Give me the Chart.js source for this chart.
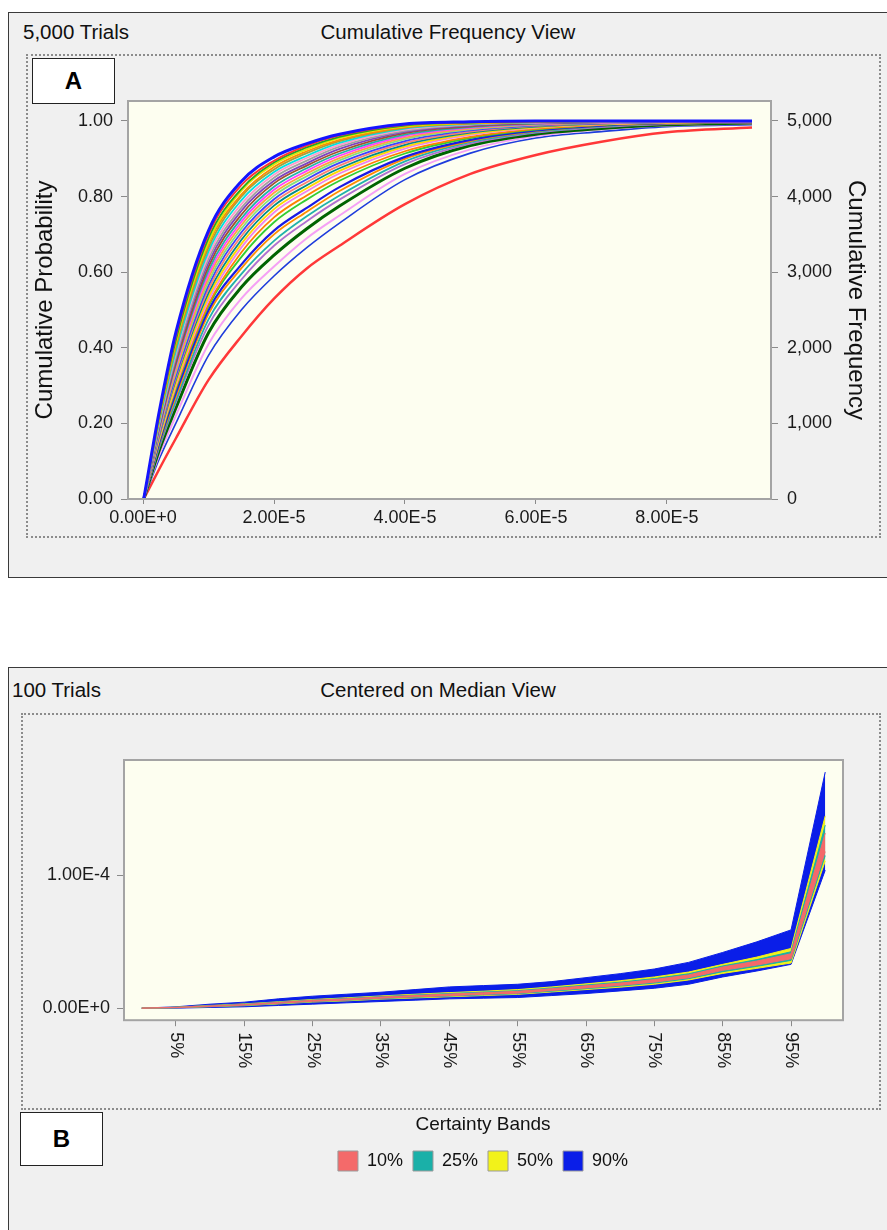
<!DOCTYPE html>
<html><head><meta charset="utf-8">
<script src="https://cdn.jsdelivr.net/npm/chart.js"></script>
<style>
body{margin:0;width:887px;height:1230px;background:#fff;position:relative;overflow:hidden;font-family:"Liberation Sans",Arial,sans-serif;}
.panel{position:absolute;background:#f0f0f0;border:1px solid #3a3a3a;box-sizing:border-box;}
.dot{position:absolute;border:2px dotted #8c8c8c;box-sizing:border-box;}
.txt{position:absolute;font-size:20.5px;color:#111;white-space:nowrap;line-height:20px;}
.lab{position:absolute;background:#fff;border:1.5px solid #222;box-sizing:border-box;font-weight:bold;font-size:24px;display:flex;align-items:center;justify-content:center;color:#000;}
canvas{position:absolute;}
</style></head>
<body>
<div class="panel" style="left:8px;top:12px;width:900px;height:566px;"></div>
<div class="dot" style="left:26px;top:54px;width:855px;height:484px;"></div>
<div class="txt" style="left:23px;top:22px;">5,000 Trials</div>
<div class="txt" style="left:448px;top:22px;transform:translateX(-50%);">Cumulative Frequency View</div>
<div class="lab" style="left:32px;top:58px;width:83px;height:46px;">A</div>
<canvas id="cA" width="860" height="470" style="left:20px;top:90px;"></canvas>

<div class="panel" style="left:8px;top:667px;width:900px;height:600px;"></div>
<div class="dot" style="left:21px;top:713px;width:860px;height:397px;"></div>
<div class="txt" style="left:12px;top:680px;">100 Trials</div>
<div class="txt" style="left:438px;top:680px;transform:translateX(-50%);">Centered on Median View</div>
<canvas id="cB" width="858" height="461" style="left:22px;top:720px;"></canvas>
<div class="lab" style="left:20px;top:1112px;width:83px;height:54px;">B</div>

<script>
// ---------- Panel A: cumulative frequency curves (x in units of 1E-5) ----------
const xGridA = [0.01, 0.25, 0.5, 1.0, 1.5, 2.0, 2.5, 3.0, 4.0, 5.0, 6.0, 7.0, 8.0, 9.3];
const xTickValsA = [0, 2, 4, 6, 8];
const xTickLabelsA = ['0.00E+0', '2.00E-5', '4.00E-5', '6.00E-5', '8.00E-5'];
const probTickVals = [0, 0.2, 0.4, 0.6, 0.8, 1.0];
const probTickLabels = ['0.00', '0.20', '0.40', '0.60', '0.80', '1.00'];
const freqTickVals = [0, 1000, 2000, 3000, 4000, 5000];
const freqTickLabels = ['0', '1,000', '2,000', '3,000', '4,000', '5,000'];

const cdfBlue1  = [0,.234,.44,.71,.84,.905,.94,.965,.992,.998,1,1,1,1];
const cdfR1     = [0,.228,.43,.70,.83,.895,.935,.962,.99,.997,.999,1,1,1];
const cdfR2     = [0,.222,.42,.69,.82,.89,.93,.958,.988,.996,.999,1,1,1];
const cdfR3     = [0,.22,.415,.68,.815,.885,.925,.955,.986,.995,.998,1,1,1];
const cdfR4     = [0,.216,.41,.675,.805,.878,.92,.95,.984,.994,.998,.999,1,1];
const cdfR5     = [0,.212,.40,.665,.80,.872,.915,.947,.982,.993,.997,.999,1,1];
const cdfR6     = [0,.206,.39,.655,.79,.865,.908,.942,.98,.992,.997,.999,1,1];
const cdfR7     = [0,.204,.385,.645,.78,.858,.902,.937,.977,.991,.996,.998,1,1];
const cdfR8     = [0,.199,.375,.635,.77,.85,.895,.932,.974,.99,.996,.998,.999,1];
const cdfR9     = [0,.196,.37,.625,.762,.842,.888,.926,.971,.988,.995,.998,.999,1];
const cdfR10    = [0,.192,.36,.615,.752,.835,.882,.92,.968,.986,.994,.997,.999,1];
const cdfR11    = [0,.189,.355,.605,.742,.826,.875,.914,.964,.984,.993,.997,.999,1];
const cdfR12    = [0,.186,.35,.595,.733,.818,.868,.908,.96,.982,.992,.996,.998,.999];
const cdfR13    = [0,.182,.34,.585,.724,.81,.861,.902,.956,.98,.991,.996,.998,.999];
const cdfR14    = [0,.179,.335,.575,.715,.802,.854,.896,.952,.978,.99,.995,.998,.999];
const cdfR15    = [0,.174,.325,.565,.705,.793,.846,.889,.947,.975,.988,.994,.997,.999];
const cdfR16    = [0,.172,.32,.555,.695,.785,.838,.882,.942,.972,.987,.994,.997,.999];
const cdfR17    = [0,.169,.315,.545,.685,.776,.83,.875,.937,.969,.985,.993,.997,.998];
const cdfR18    = [0,.164,.305,.535,.675,.767,.822,.868,.932,.966,.983,.992,.996,.998];
const cdfR19    = [0,.161,.30,.525,.665,.758,.814,.861,.927,.963,.982,.991,.996,.998];
const cdfR20    = [0,.159,.295,.515,.652,.745,.803,.851,.92,.958,.979,.99,.995,.998];
const cdfR21    = [0,.156,.29,.51,.64,.732,.792,.842,.914,.955,.977,.989,.995,.997];
const cdfBlue2  = [0,.151,.28,.50,.62,.71,.77,.825,.905,.95,.975,.988,.994,.997];
const cdfR22    = [0,.146,.27,.49,.61,.70,.76,.815,.90,.947,.973,.987,.993,.996];
const cdfR23    = [0,.141,.26,.475,.595,.683,.748,.803,.893,.944,.971,.986,.993,.996];
const cdfR24    = [0,.138,.255,.46,.58,.67,.735,.792,.886,.94,.969,.984,.992,.996];
const cdfDkGreen= [0,.13,.24,.44,.56,.645,.715,.775,.875,.935,.965,.98,.99,.995];
const cdfPink   = [0,.118,.22,.41,.53,.615,.69,.75,.86,.925,.96,.978,.988,.993];
const cdfBlue3  = [0,.107,.20,.38,.50,.59,.665,.73,.845,.915,.955,.972,.985,.99];
const cdfRed    = [0,.08,.16,.315,.43,.53,.61,.67,.78,.86,.91,.945,.97,.983];

const seriesA = [
  [cdfBlue1,'#1414ff',3],[cdfR1,'#ff3232',1.8],[cdfR2,'#22aa22',1.8],[cdfR3,'#e6e600',1.8],
  [cdfR4,'#ff8c00',1.8],[cdfR5,'#a0a040',1.8],[cdfR6,'#00e0e0',1.8],[cdfR7,'#ff99cc',1.8],
  [cdfR8,'#a0a0a0',1.8],[cdfR9,'#8040c0',1.8],[cdfR10,'#a0522d',1.8],[cdfR11,'#20b2aa',1.8],
  [cdfR12,'#ff40ff',1.8],[cdfR13,'#ffa040',1.8],[cdfR14,'#80e080',1.8],[cdfR15,'#4040ff',1.8],
  [cdfR16,'#fa8072',1.8],[cdfR17,'#008b8b',1.8],[cdfR18,'#ffd700',1.8],[cdfR19,'#ee82ee',1.8],
  [cdfR20,'#ff7f00',1.8],[cdfR21,'#32cd32',1.8],[cdfBlue2,'#1a1ae6',2.2],[cdfR22,'#ff8c00',1.8],
  [cdfR23,'#20b2aa',1.8],[cdfR24,'#b070d0',1.8],[cdfDkGreen,'#006400',3],[cdfPink,'#f5a0f5',2],
  [cdfBlue3,'#1e3cdc',1.6],[cdfRed,'#ff3838',2.5]
];

// ---------- Panel B: certainty bands (values in units of 1E-4) ----------
const pctX = [0,5,10,15,20,25,30,35,40,45,50,55,60,65,70,75,80,85,90,95,100];
const pctTickVals = [5,15,25,35,45,55,65,75,85,95];
const pctTickLabels = ['5%','15%','25%','35%','45%','55%','65%','75%','85%','95%'];
const valTickVals = [0, 1];
const valTickLabels = ['0.00E+0', '1.00E-4'];
const band90Lo = [0,0,.005,.01,.02,.03,.04,.05,.06,.07,.075,.08,.095,.11,.13,.15,.18,.235,.28,.33,1.04];
const band90Hi = [0,.01,.03,.045,.07,.09,.105,.12,.14,.16,.17,.18,.20,.23,.26,.295,.345,.42,.50,.59,1.78];
const band50Lo = [0,.003,.011,.019,.032,.046,.055,.068,.077,.086,.095,.104,.122,.14,.158,.18,.212,.262,.30,.34,1.11];
const band50Hi = [0,.007,.02,.032,.048,.065,.078,.092,.105,.117,.128,.14,.16,.183,.207,.235,.272,.33,.385,.45,1.45];
const band25Lo = [0,.004,.012,.021,.035,.049,.059,.072,.082,.091,.10,.109,.128,.147,.166,.189,.222,.275,.315,.36,1.15];
const band25Hi = [0,.006,.018,.029,.045,.061,.073,.087,.099,.11,.121,.132,.152,.174,.196,.223,.259,.318,.366,.425,1.38];
const band10Lo = [0,.0045,.013,.023,.037,.051,.061,.075,.085,.094,.104,.113,.133,.152,.172,.196,.229,.285,.325,.372,1.18];
const band10Hi = [0,.0055,.017,.027,.043,.059,.07,.084,.095,.106,.116,.127,.147,.168,.189,.215,.25,.31,.355,.41,1.32];
const bandNames = ['10%','25%','50%','90%'];
const bandColors = ['#f46a6a','#1ab0a8','#f2f21a','#0a1ee8'];

// ---------- common ----------
const FONT = '"Liberation Sans", Arial, sans-serif';
const plotFrame = {
  id: 'plotFrame',
  beforeDraw(c) { const a = c.chartArea, x = c.ctx; x.save(); x.fillStyle = '#fdfef0'; x.fillRect(a.left, a.top, a.right - a.left, a.bottom - a.top); x.restore(); },
  afterDraw(c) { const a = c.chartArea, x = c.ctx; x.save(); x.strokeStyle = '#a4a4a4'; x.lineWidth = 2; x.strokeRect(a.left, a.top, a.right - a.left, a.bottom - a.top); x.restore(); }
};
const setTicks = vals => s => { s.ticks = vals.map(v => ({value: v})); };
const fitBox = (w, h) => s => {
  if (w !== null) s.width = w;
  if (h !== null) s.height = h;
  s.paddingTop = 0; s.paddingBottom = 0; s.paddingLeft = 0; s.paddingRight = 0;
};
const tickFont = {family: FONT, size: 18};
const gridOut = {drawOnChartArea: false, drawTicks: true, tickLength: 7, color: '#8a8a8a', lineWidth: 1};

// ---------- Chart A ----------
new Chart(document.getElementById('cA'), {
  type: 'line',
  data: {
    datasets: seriesA.map(([arr, col, w]) => ({
      data: xGridA.map((x, i) => ({x: x, y: arr[i]})),
      borderColor: col, borderWidth: w, pointRadius: 0, fill: false,
      cubicInterpolationMode: 'monotone', yAxisID: 'y', xAxisID: 'x'
    }))
  },
  options: {
    responsive: false, animation: false, devicePixelRatio: 1,
    layout: {padding: {left: 0, top: 11, right: 0, bottom: 0}},
    plugins: {legend: {display: false}, tooltip: {enabled: false}},
    scales: {
      x: {type: 'linear', min: -0.23, max: 9.59, afterBuildTicks: setTicks(xTickValsA),
          afterFit: fitBox(null, 61),
          ticks: {autoSkip: false, maxRotation: 0, font: tickFont, color: '#1a1a1a', padding: 3,
                  callback: (v, i) => xTickLabelsA[i]},
          grid: Object.assign({}, gridOut, {tickLength: 5}), border: {display: false}},
      y: {type: 'linear', position: 'left', min: 0, max: 1.0529, afterBuildTicks: setTicks(probTickVals),
          afterFit: fitBox(108, null),
          ticks: {autoSkip: false, font: tickFont, color: '#1a1a1a', padding: 8, callback: (v, i) => probTickLabels[i]},
          grid: gridOut, border: {display: false},
          title: {display: true, text: 'Cumulative Probability', font: {family: FONT, size: 24}, color: '#111', padding: {top: 11, bottom: 0}}},
      y2: {type: 'linear', position: 'right', min: 0, max: 5264.5, afterBuildTicks: setTicks(freqTickVals),
          afterFit: fitBox(109, null),
          ticks: {autoSkip: false, font: tickFont, color: '#1a1a1a', padding: 9, callback: (v, i) => freqTickLabels[i]},
          grid: gridOut, border: {display: false},
          title: {display: true, text: 'Cumulative Frequency', font: {family: FONT, size: 24}, color: '#111', padding: {top: 10, bottom: 0}}}
    }
  },
  plugins: [plotFrame]
});

// ---------- Chart B ----------
const bandSets = [[band90Lo, band90Hi, 3], [band50Lo, band50Hi, 2], [band25Lo, band25Hi, 1], [band10Lo, band10Hi, 0]];
const dsB = [];
bandSets.forEach(([lo, hi, ci], k) => {
  const col = bandColors[ci];
  const loIdx = dsB.length;
  dsB.push({data: pctX.map((x, i) => ({x: x, y: lo[i]})), borderColor: col, borderWidth: 1, pointRadius: 0, fill: false, order: 10 - k});
  dsB.push({data: pctX.map((x, i) => ({x: x, y: hi[i]})), borderColor: col, borderWidth: 1, pointRadius: 0,
            backgroundColor: col, fill: {target: loIdx}, order: 10 - k});
});
const rotatedPctLabels = {
  id: 'rotatedPctLabels',
  afterDraw(c) {
    const s = c.scales.x, ctx = c.ctx;
    ctx.save();
    ctx.font = '18px ' + FONT; ctx.fillStyle = '#1a1a1a'; ctx.textAlign = 'left'; ctx.textBaseline = 'middle';
    pctTickVals.forEach((v, i) => {
      const px = s.getPixelForValue(v);
      ctx.save(); ctx.translate(px, c.chartArea.bottom + 12); ctx.rotate(Math.PI / 2);
      ctx.fillText(pctTickLabels[i], 0, 0); ctx.restore();
    });
    ctx.restore();
  }
};
const shiftLegend = {
  id: 'shiftLegend',
  afterLayout(c) { const l = c.legend; if (l) { l.left += 50.5; l.right += 50.5; } }
};
new Chart(document.getElementById('cB'), {
  type: 'line',
  data: {datasets: dsB},
  options: {
    responsive: false, animation: false, devicePixelRatio: 1,
    layout: {padding: {left: 0, top: 40, right: 37, bottom: 0}},
    plugins: {
      tooltip: {enabled: false},
      filler: {propagate: false},
      legend: {
        display: true, position: 'bottom',
        title: {display: true, text: 'Certainty Bands', color: '#111', font: {family: FONT, size: 19}, padding: {top: 0, bottom: 3}},
        labels: {boxWidth: 20, boxHeight: 20, padding: 10, color: '#111', font: {family: FONT, size: 18},
          generateLabels: () => bandNames.map((n, i) => ({text: n, fillStyle: bandColors[i], strokeStyle: '#9a9a9a', lineWidth: 1, hidden: false, datasetIndex: i}))}
      }
    },
    scales: {
      x: {type: 'linear', min: -2.6, max: 102.6, afterBuildTicks: setTicks(pctTickVals),
          afterFit: fitBox(null, 95),
          ticks: {display: false, autoSkip: false},
          grid: Object.assign({}, gridOut, {tickLength: 6}), border: {display: false}},
      y: {type: 'linear', min: -0.091, max: 1.871, afterBuildTicks: setTicks(valTickVals),
          afterFit: fitBox(102, null),
          ticks: {autoSkip: false, font: tickFont, color: '#1a1a1a', padding: 7, callback: (v, i) => valTickLabels[i]},
          grid: gridOut, border: {display: false}}
    }
  },
  plugins: [plotFrame, rotatedPctLabels, shiftLegend]
});
</script>
</body></html>
